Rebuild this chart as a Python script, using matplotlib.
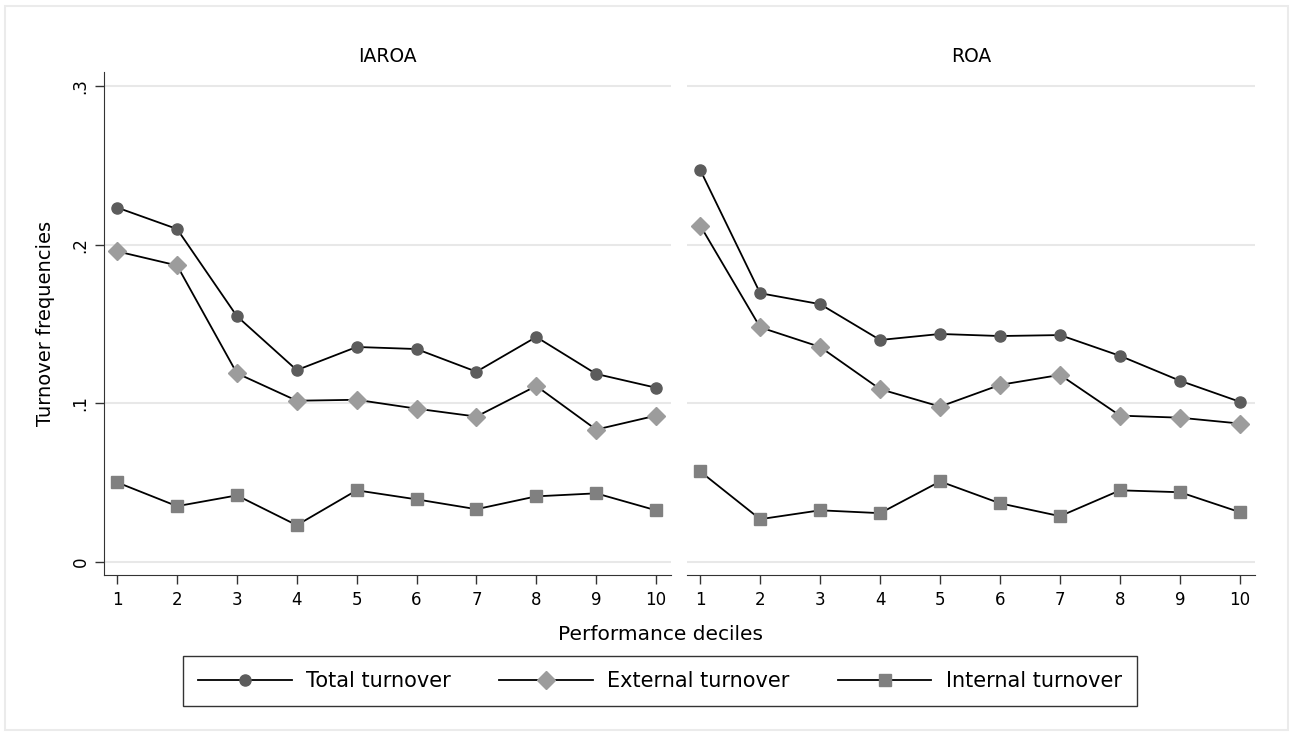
import numpy as np
import matplotlib.pyplot as plt
from matplotlib.patches import Rectangle

plt.rcParams['font.family'] = ['DejaVu Sans']

deciles = [1, 2, 3, 4, 5, 6, 7, 8, 9, 10]
panels = ["IAROA", "ROA"]

# IAROA panel
iaroa_total = [0.2235, 0.210, 0.155, 0.121, 0.1356, 0.1343, 0.120, 0.1419, 0.1186, 0.1099]
iaroa_external = [0.1959, 0.187, 0.119, 0.1017, 0.1023, 0.0967, 0.0917, 0.111, 0.0835, 0.0923]
iaroa_internal = [0.0502, 0.0352, 0.042, 0.0232, 0.0452, 0.0395, 0.0333, 0.0414, 0.0433, 0.0326]

# ROA panel
roa_total = [0.2473, 0.1695, 0.1626, 0.140, 0.1438, 0.1425, 0.1431, 0.130, 0.1143, 0.101]
roa_external = [0.2122, 0.148, 0.1356, 0.109, 0.098, 0.1117, 0.118, 0.0923, 0.091, 0.0873]
roa_internal = [0.0571, 0.027, 0.0326, 0.0308, 0.0508, 0.037, 0.0289, 0.0452, 0.044, 0.0314]

series_names = ["Total turnover", "External turnover", "Internal turnover"]
yticks = [0, 0.1, 0.2, 0.3]
ytick_labels = ["0", ".1", ".2", ".3"]

styles = [
    dict(marker="o", markersize=8, markerfacecolor="#5c5c5c", markeredgecolor="#5c5c5c"),
    dict(marker="D", markersize=9, markerfacecolor="#9c9c9c", markeredgecolor="#9c9c9c"),
    dict(marker="s", markersize=8, markerfacecolor="#808080", markeredgecolor="#808080"),
]

fig = plt.figure(figsize=(12.9, 7.36), dpi=100)
fig.patches.append(Rectangle((5 / 1290, 6 / 736), 1283 / 1290, 724 / 736,
                             transform=fig.transFigure, fill=False,
                             edgecolor="#ebebeb", linewidth=1.5))

ax1 = fig.add_axes([104 / 1290, 1 - 575 / 736, 567 / 1290, 503 / 736])
ax2 = fig.add_axes([687 / 1290, 1 - 575 / 736, 568 / 1290, 503 / 736])

data = [[iaroa_total, iaroa_external, iaroa_internal],
        [roa_total, roa_external, roa_internal]]

handles = []
for i, ax in enumerate([ax1, ax2]):
    for j, vals in enumerate(data[i]):
        ln, = ax.plot(deciles, vals, color="black", linewidth=1.3, label=series_names[j], **styles[j])
        if i == 0:
            handles.append(ln)
    ax.set_xlim(0.78, 10.25)
    ax.set_ylim(-0.0082, 0.309)
    ax.set_xticks(deciles)
    ax.set_yticks(yticks)
    for y in yticks:
        ax.axhline(y, color="#e8e8e8", linewidth=1.5, zorder=0)
    ax.spines["top"].set_visible(False)
    ax.spines["right"].set_visible(False)
    ax.spines["bottom"].set_color("#333333")
    ax.spines["left"].set_color("#333333")
    ax.tick_params(axis="x", length=6.5, width=1, color="#333333", labelsize=12, pad=5)
    ax.set_title(panels[i], fontsize=13.5, pad=7)

ax1.set_yticklabels(ytick_labels, rotation=90, va="center")
ax1.tick_params(axis="y", length=6.5, width=1, color="#333333", labelsize=12, pad=4)
ax1.set_ylabel("Turnover frequencies", fontsize=14, labelpad=12)

ax2.spines["left"].set_visible(False)
ax2.tick_params(axis="y", left=False, labelleft=False)

fig.text(660 / 1290, 1 - 635 / 736, "Performance deciles", ha="center", va="center", fontsize=14.5)

leg = fig.legend(handles, series_names, loc="center", bbox_to_anchor=(660 / 1290, 1 - 681 / 736),
                 ncol=3, fontsize=15, frameon=True, fancybox=False, edgecolor="black",
                 handlelength=4.5, columnspacing=2.3, handletextpad=0.7, borderpad=0.7)
leg.get_frame().set_linewidth(1.0)

fig.savefig("out.png", dpi=100)
